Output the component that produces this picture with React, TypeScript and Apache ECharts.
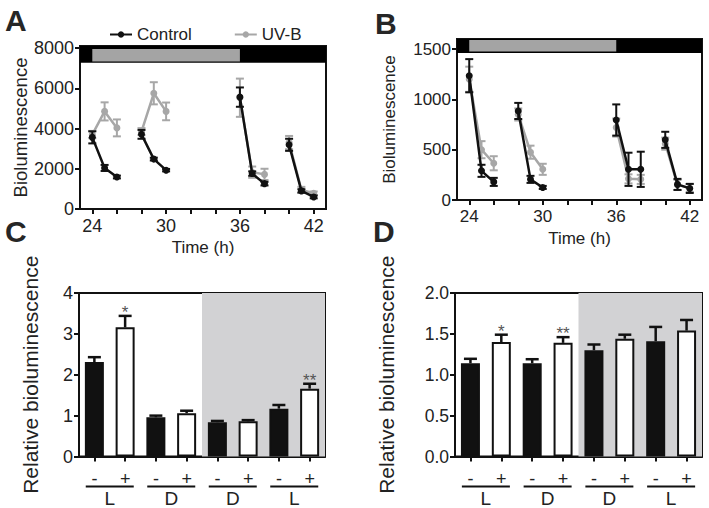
import React, { useEffect, useRef } from 'react';
import * as echarts from 'echarts';

// ---------- Panel A / B : time courses ----------
const timeHours = [24, 25, 26, 28, 29, 30, 36, 37, 38, 40, 41, 42];
const timeTickValues = [24, 26, 28, 30, 32, 34, 36, 38, 40, 42];
const timeLabelValues = [24, 30, 36, 42];

const controlA = [3560, 2040, 1590, 3710, 2480, 1930, 5560, 1760, 1260, 3190, 900, 600];
const controlAErr = [300, 150, 70, 220, 70, 60, 480, 110, 90, 300, 80, 70];
const uvbA = [3700, 4850, 4030, 3850, 5750, 4850, 5530, 1830, 1720, 3300, 950, 780];
const uvbAErr = [180, 450, 420, 170, 550, 440, 950, 280, 280, 330, 150, 90];
const yTicksA = [0, 2000, 4000, 6000, 8000];

const controlB = [1235, 290, 180, 885, 205, 125, 795, 305, 305, 598, 155, 115];
const controlBErr = [165, 60, 40, 80, 35, 15, 155, 165, 175, 80, 55, 45];
const uvbB = [1200, 500, 365, 850, 475, 305, 720, 210, 205, 560, 150, 120];
const uvbBErr = [125, 85, 70, 60, 65, 55, 90, 45, 45, 60, 50, 40];
const yTicksB = [0, 500, 1000, 1500];

// light (gray) / dark (black) bar at the top of A and B: hours
const lightStart = 24;
const lightEnd = 36;

// ---------- Panel C / D : relative bioluminescence ----------
const treatmentLabels = ['-', '+', '-', '+', '-', '+', '-', '+'];
const groupLabels = ['L', 'D', 'D', 'L'];

const controlC = [2.31, 0.96, 0.84, 1.17];
const controlCErr = [0.12, 0.04, 0.03, 0.09];
const uvbC = [3.16, 1.06, 0.86, 1.66];
const uvbCErr = [0.28, 0.06, 0.03, 0.12];
const sigC = ['*', '', '', '**'];

const controlD = [1.14, 1.14, 1.3, 1.41];
const controlDErr = [0.055, 0.05, 0.07, 0.175];
const uvbD = [1.4, 1.39, 1.44, 1.54];
const uvbDErr = [0.09, 0.07, 0.05, 0.13];
const sigD = ['*', '**', '', ''];

const BLACK = '#111111';
const GRAY = '#a7a7a7';
const FONT = '"Liberation Sans", Arial, Helvetica, sans-serif';
const TEXT = '#222222';

function lineData(times: number[], vals: number[]) {
  const out: any[] = [];
  times.forEach((t, i) => {
    if (i > 0 && t - times[i - 1] > 1) out.push([times[i - 1], '-']);
    out.push([t, vals[i]]);
  });
  return out;
}

function errData(times: number[], vals: number[], errs: number[]) {
  return times.map((t, i) => [t, vals[i], errs[i]]);
}

function errRender(color: string, cap: number) {
  return (params: any, api: any) => {
    const x = api.value(0);
    const y = api.value(1);
    const e = api.value(2);
    const lo = api.coord([x, y - e]);
    const hi = api.coord([x, y + e]);
    const style = { stroke: color, lineWidth: 2 };
    return {
      type: 'group',
      children: [
        { type: 'line', shape: { x1: lo[0], y1: lo[1], x2: hi[0], y2: hi[1] }, style },
        { type: 'line', shape: { x1: hi[0] - cap, y1: hi[1], x2: hi[0] + cap, y2: hi[1] }, style },
        { type: 'line', shape: { x1: lo[0] - cap, y1: lo[1], x2: lo[0] + cap, y2: lo[1] }, style },
      ],
    };
  };
}

function barErrRender(sigs: string[]) {
  return (params: any, api: any) => {
    const x = api.value(0);
    const y = api.value(1);
    const e = api.value(2);
    const mid = api.coord([x, y]);
    const hi = api.coord([x, y + e]);
    const style = { stroke: BLACK, lineWidth: 2.5 };
    const children: any[] = [
      { type: 'line', shape: { x1: mid[0], y1: mid[1], x2: hi[0], y2: hi[1] }, style },
      { type: 'line', shape: { x1: hi[0] - 6.5, y1: hi[1], x2: hi[0] + 6.5, y2: hi[1] }, style },
    ];
    const sig = x % 2 === 1 ? sigs[(x - 1) / 2] : '';
    if (sig) {
      children.push({
        type: 'text',
        x: hi[0],
        y: hi[1] + 5,
        style: {
          text: sig,
          font: `17px ${FONT}`,
          fill: '#555555',
          textAlign: 'center',
          textVerticalAlign: 'bottom',
        },
      });
    }
    return { type: 'group', children };
  };
}

const axisLineStyle = { show: true, onZero: false, lineStyle: { color: BLACK, width: 2 } };

function timeXAxis(gridIndex: number, fontSize: number) {
  return {
    type: 'value',
    gridIndex,
    min: 23,
    max: 43,
    name: 'Time (h)',
    nameLocation: 'middle',
    nameGap: 30,
    nameTextStyle: { fontSize: 17, color: TEXT, fontFamily: FONT },
    axisLine: axisLineStyle,
    axisTick: { show: true, length: 5, lineStyle: { color: BLACK, width: 2 }, customValues: timeTickValues },
    axisLabel: { fontSize, color: TEXT, fontFamily: FONT, margin: 8, customValues: timeLabelValues },
    splitLine: { show: false },
  };
}

function valueYAxis(gridIndex: number, opts: any) {
  return {
    type: 'value',
    gridIndex,
    nameLocation: 'middle',
    axisLine: axisLineStyle,
    axisTick: { show: true, length: 5, lineStyle: { color: BLACK, width: 2 } },
    splitLine: { show: false },
    ...opts,
  };
}

function barXAxes(gridIndex: number) {
  return [
    {
      type: 'value',
      gridIndex,
      min: -0.5,
      max: 7.5,
      axisLine: axisLineStyle,
      axisTick: {
        show: true,
        length: 5,
        lineStyle: { color: BLACK, width: 2 },
        customValues: treatmentLabels.map((_, i) => i),
      },
      axisLabel: {
        fontSize: 18,
        color: TEXT,
        fontFamily: FONT,
        margin: 13,
        customValues: treatmentLabels.map((_, i) => i),
        formatter: (v: number) => treatmentLabels[Math.round(v)] ?? '',
      },
      splitLine: { show: false },
    },
    {
      type: 'value',
      gridIndex,
      position: 'bottom',
      min: -0.5,
      max: 7.5,
      axisLine: { show: false, onZero: false },
      axisTick: { show: false },
      axisLabel: {
        margin: 29,
        customValues: groupLabels.map((_, g) => 2 * g + 0.5),
        formatter: (v: number) => `{ln| }\n{t|${groupLabels[Math.round((v - 0.5) / 2)] ?? ''}}`,
        rich: {
          ln: { width: 48, height: 2, lineHeight: 2, backgroundColor: BLACK, fontSize: 1 },
          t: { fontSize: 19, lineHeight: 22, color: TEXT, fontFamily: FONT },
        },
      },
      splitLine: { show: false },
    },
  ];
}

function timeSeries(xi: number, ctrl: number[], ctrlErr: number[], uvb: number[], uvbErr: number[], topMax: number, bandLo: number, grayLo: number, grayHi: number) {
  return [
    {
      type: 'line',
      xAxisIndex: xi,
      yAxisIndex: xi,
      data: [[22, -1000]],
      showSymbol: false,
      lineStyle: { width: 0 },
      silent: true,
      z: 1,
      markArea: {
        silent: true,
        label: { show: false },
        data: [
          [
            { xAxis: 23, yAxis: bandLo, itemStyle: { color: '#000000' } },
            { xAxis: 43, yAxis: topMax },
          ],
          [
            { xAxis: lightStart, yAxis: grayLo, itemStyle: { color: '#a4a4a4' } },
            { xAxis: lightEnd, yAxis: grayHi },
          ],
        ],
      },
    },
    {
      type: 'custom',
      xAxisIndex: xi,
      yAxisIndex: xi,
      data: errData(timeHours, uvb, uvbErr),
      renderItem: errRender(GRAY, 4),
      encode: { x: 0, y: 1 },
      z: 2,
    },
    {
      name: 'UV-B',
      type: 'line',
      xAxisIndex: xi,
      yAxisIndex: xi,
      data: lineData(timeHours, uvb),
      connectNulls: false,
      symbol: 'circle',
      symbolSize: 7,
      color: GRAY,
      lineStyle: { color: GRAY, width: 2.5 },
      itemStyle: { color: GRAY },
      z: 3,
    },
    {
      type: 'custom',
      xAxisIndex: xi,
      yAxisIndex: xi,
      data: errData(timeHours, ctrl, ctrlErr),
      renderItem: errRender(BLACK, 4),
      encode: { x: 0, y: 1 },
      z: 4,
    },
    {
      name: 'Control',
      type: 'line',
      xAxisIndex: xi,
      yAxisIndex: xi,
      data: lineData(timeHours, ctrl),
      connectNulls: false,
      symbol: 'circle',
      symbolSize: 7,
      color: BLACK,
      lineStyle: { color: BLACK, width: 2.5 },
      itemStyle: { color: BLACK },
      z: 5,
    },
  ];
}

function barSeries(xi: number, yi: number, ymax: number, ctrl: number[], ctrlErr: number[], uvb: number[], uvbErr: number[], sigs: string[]) {
  return [
    {
      type: 'line',
      xAxisIndex: xi,
      yAxisIndex: yi,
      data: [[-1, -1]],
      showSymbol: false,
      lineStyle: { width: 0 },
      silent: true,
      z: 1,
      markArea: {
        silent: true,
        label: { show: false },
        itemStyle: { color: '#d2d2d4' },
        data: [[{ xAxis: 3.5, yAxis: 0 }, { xAxis: 7.5, yAxis: ymax }]],
      },
    },
    {
      name: 'control bars',
      type: 'bar',
      xAxisIndex: xi,
      yAxisIndex: yi,
      data: ctrl.map((v, g) => [2 * g, v]),
      barWidth: 19,
      barGap: '-100%',
      itemStyle: { color: BLACK, borderColor: BLACK, borderWidth: 2 },
      z: 3,
    },
    {
      name: 'uvb bars',
      type: 'bar',
      xAxisIndex: xi,
      yAxisIndex: yi,
      data: uvb.map((v, g) => [2 * g + 1, v]),
      barWidth: 19,
      barGap: '-100%',
      itemStyle: { color: '#ffffff', borderColor: BLACK, borderWidth: 2 },
      z: 3,
    },
    {
      type: 'custom',
      xAxisIndex: xi,
      yAxisIndex: yi,
      data: [
        ...ctrl.map((v, g) => [2 * g, v, ctrlErr[g]]),
        ...uvb.map((v, g) => [2 * g + 1, v, uvbErr[g]]),
      ],
      renderItem: barErrRender(sigs),
      encode: { x: 0, y: 1 },
      z: 4,
    },
  ];
}

export default function App() {
  const ref = useRef<HTMLDivElement>(null);

  useEffect(() => {
    if (!ref.current) return;
    const chart = echarts.init(ref.current, undefined, { renderer: 'svg' });
    const gridBase = { show: true, borderColor: BLACK, borderWidth: 2, containLabel: false };
    const plain = (v: number) => String(v);
    const option: any = {
      animation: false,
      backgroundColor: '#ffffff',
      textStyle: { fontFamily: FONT, color: TEXT },
      legend: {
        data: ['Control', 'UV-B'],
        left: 104,
        top: 21,
        itemWidth: 22,
        itemHeight: 8,
        itemGap: 42,
        textStyle: { fontSize: 17, color: TEXT, fontFamily: FONT },
      },
      grid: [
        { ...gridBase, left: 80, top: 46, width: 246, height: 163 },
        { ...gridBase, left: 457, top: 39, width: 245, height: 161 },
        { ...gridBase, left: 79, top: 293, width: 246, height: 164 },
        { ...gridBase, left: 455, top: 293, width: 247, height: 164 },
      ],
      xAxis: [
        timeXAxis(0, 18),
        timeXAxis(1, 17),
        ...barXAxes(2),
        ...barXAxes(3),
      ],
      yAxis: [
        valueYAxis(0, {
          min: 0,
          max: 8100,
          name: 'Bioluminescence',
          nameGap: 46,
          nameTextStyle: { fontSize: 18.5, color: TEXT, fontFamily: FONT },
          axisTick: { show: true, length: 5, lineStyle: { color: BLACK, width: 2 }, customValues: yTicksA },
          axisLabel: { fontSize: 18, color: TEXT, fontFamily: FONT, margin: 6, customValues: yTicksA, formatter: plain },
        }),
        valueYAxis(1, {
          min: 0,
          max: 1600,
          name: 'Bioluminescence',
          nameGap: 59,
          nameTextStyle: { fontSize: 17, color: TEXT, fontFamily: FONT },
          axisTick: { show: true, length: 5, lineStyle: { color: BLACK, width: 2 }, customValues: yTicksB },
          axisLabel: { fontSize: 17, color: TEXT, fontFamily: FONT, margin: 6, customValues: yTicksB, formatter: plain },
        }),
        valueYAxis(2, {
          min: 0,
          max: 4,
          interval: 1,
          name: 'Relative bioluminescence',
          nameGap: 38,
          nameTextStyle: { fontSize: 21, color: TEXT, fontFamily: FONT },
          axisLabel: { fontSize: 18, color: TEXT, fontFamily: FONT, margin: 6 },
        }),
        valueYAxis(3, {
          min: 0,
          max: 2,
          interval: 0.5,
          name: 'Relative bioluminescence',
          nameGap: 58,
          nameTextStyle: { fontSize: 21, color: TEXT, fontFamily: FONT },
          axisLabel: { fontSize: 17.5, color: TEXT, fontFamily: FONT, margin: 6, formatter: (v: number) => v.toFixed(1) },
        }),
      ],
      series: [
        ...timeSeries(0, controlA, controlAErr, uvbA, uvbAErr, 8100, 7270, 7330, 7950),
        ...timeSeries(1, controlB, controlBErr, uvbB, uvbBErr, 1600, 1460, 1476, 1590),
        ...barSeries(2, 2, 4, controlC, controlCErr, uvbC, uvbCErr, sigC),
        ...barSeries(4, 3, 2, controlD, controlDErr, uvbD, uvbDErr, sigD),
      ],
      graphic: [
        { type: 'text', left: 5, top: 5, style: { text: 'A', font: `bold 30px ${FONT}`, fill: '#262626' } },
        { type: 'text', left: 375, top: 8, style: { text: 'B', font: `bold 30px ${FONT}`, fill: '#262626' } },
        { type: 'text', left: 5, top: 216, style: { text: 'C', font: `bold 30px ${FONT}`, fill: '#262626' } },
        { type: 'text', left: 373, top: 216, style: { text: 'D', font: `bold 30px ${FONT}`, fill: '#262626' } },
      ],
    };
    chart.setOption(option);
    return () => chart.dispose();
  }, []);

  return (
    <div
      ref={ref}
      style={{ position: 'fixed', left: 0, top: 0, width: 709, height: 508, background: '#fff' }}
    />
  );
}
